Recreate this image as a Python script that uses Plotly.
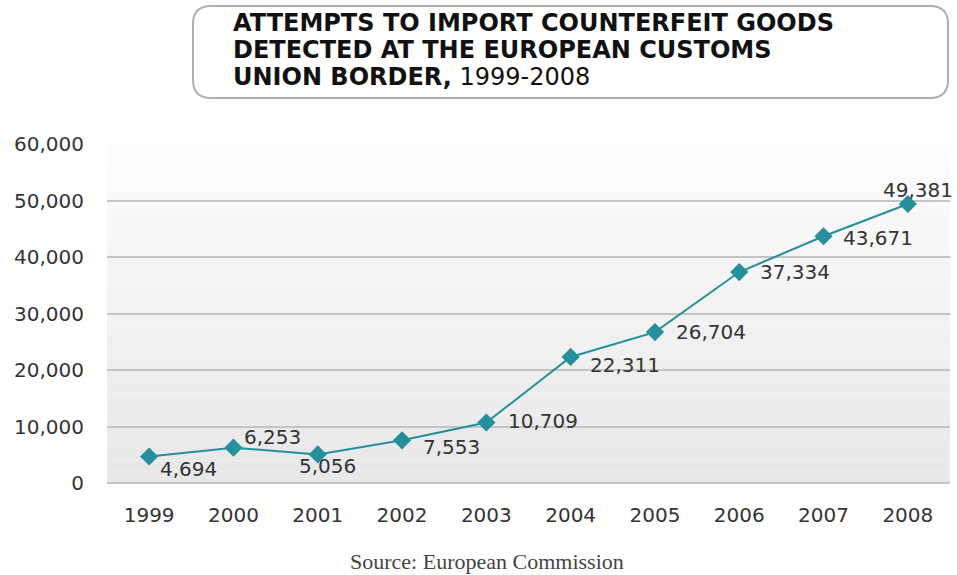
import plotly.graph_objects as go

years = ["1999", "2000", "2001", "2002", "2003", "2004", "2005", "2006", "2007", "2008"]
values = [4694, 6253, 5056, 7553, 10709, 22311, 26704, 37334, 43671, 49381]
y_ticks = [0, 10000, 20000, 30000, 40000, 50000, 60000]
# label offsets (pixels) of each label centre relative to its point
label_dx = [39, 39, 10, 49, 57, 54, 56, 56, 54, 10]
label_dy = [-13, 11, -12, -7, 1, -8, 0, 0, -2, 14]

teal = "#23909b"
font_main = "DejaVu Sans"

fig = go.Figure()
fig.add_trace(go.Scatter(
    x=list(range(len(years))), y=values, mode="lines+markers",
    line=dict(color=teal, width=2),
    marker=dict(symbol="diamond", size=14, color=teal),
    hoverinfo="skip", showlegend=False,
))

annotations = []
for i, v in enumerate(values):
    annotations.append(dict(
        x=i, y=v, xref="x", yref="y", text=f"{v:,}", showarrow=False,
        xshift=label_dx[i], yshift=label_dy[i],
        font=dict(family=font_main, size=20, color="#333333"),
    ))

shapes = []
n = 30
for k in range(n):
    g = int(254 - 22 * (1 - k / n))
    shapes.append(dict(
        type="rect", xref="x domain", yref="y domain", x0=0, x1=1,
        y0=k / n, y1=(k + 1) / n, fillcolor=f"rgb({g},{g},{g})",
        line=dict(width=0), layer="below",
    ))

fig.update_layout(
    width=957, height=575,
    margin=dict(l=107, r=7, t=144, b=92),
    paper_bgcolor="white", plot_bgcolor="white",
    xaxis=dict(
        tickmode="array", tickvals=list(range(len(years))), ticktext=years,
        range=[-0.5, len(years) - 0.5], showgrid=False, zeroline=False,
        showline=False, ticks="", ticklabelstandoff=18,
        tickfont=dict(family=font_main, size=20, color="#333333"),
    ),
    yaxis=dict(
        range=[0, 60000], tickvals=y_ticks, tickformat=",",
        showgrid=True, gridcolor="#c4c4c4", gridwidth=1.5, zeroline=True,
        zerolinecolor="#c4c4c4", zerolinewidth=1.5, showline=False, ticks="",
        ticklabelstandoff=22,
        tickfont=dict(family=font_main, size=20, color="#333333"),
    ),
    shapes=shapes,
)

# helpers converting page pixels to paper coordinates
W, H = 957 - 107 - 7, 575 - 144 - 92
def px(xp):
    return (xp - 107) / W
def py(yp):
    return (575 - 92 - yp) / H

x0, x1, y0, y1, r = 193, 948, 6, 98, 18
path = (f"M {px(x0 + r)},{py(y0)} L {px(x1 - r)},{py(y0)} "
        f"Q {px(x1)},{py(y0)} {px(x1)},{py(y0 + r)} L {px(x1)},{py(y1 - r)} "
        f"Q {px(x1)},{py(y1)} {px(x1 - r)},{py(y1)} L {px(x0 + r)},{py(y1)} "
        f"Q {px(x0)},{py(y1)} {px(x0)},{py(y1 - r)} L {px(x0)},{py(y0 + r)} "
        f"Q {px(x0)},{py(y0)} {px(x0 + r)},{py(y0)} Z")
fig.add_shape(type="path", xref="paper", yref="paper", path=path,
              line=dict(color="#b0b0b0", width=2), fillcolor="white")

annotations.append(dict(
    x=px(487), y=py(561), xref="paper", yref="paper",
    text="Source: European Commission", showarrow=False,
    xanchor="center", yanchor="middle",
    font=dict(family="Liberation Serif", size=22, color="#444444"),
))

title_lines = [
    "<b>ATTEMPTS TO IMPORT COUNTERFEIT GOODS</b>",
    "<b>DETECTED AT THE EUROPEAN CUSTOMS</b>",
    "<b>UNION BORDER,</b> 1999-2008",
]
for j, t in enumerate(title_lines):
    annotations.append(dict(
        x=px(231), y=py(23 + 27 * j), xref="paper", yref="paper", text=t,
        showarrow=False, xanchor="left", yanchor="middle",
        font=dict(family="DejaVu Sans", size=24, color="#111111"),
    ))

fig.update_layout(annotations=annotations)
fig.write_html("out.html")
